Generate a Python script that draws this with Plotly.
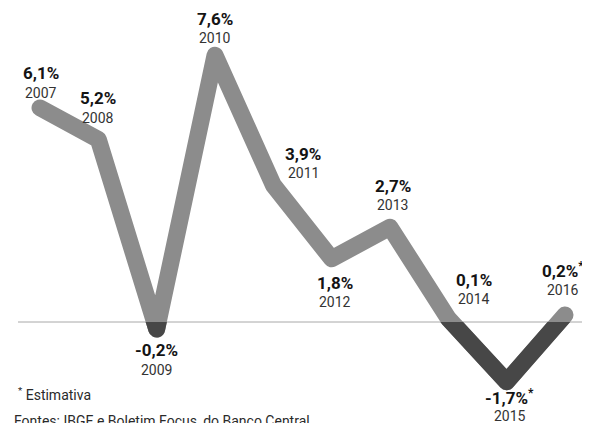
import plotly.graph_objects as go

years = [2007, 2008, 2009, 2010, 2011, 2012, 2013, 2014, 2015, 2016]
gdp = [6.1, 5.2, -0.2, 7.6, 3.9, 1.8, 2.7, 0.1, -1.7, 0.2]
value_labels = ["6,1%", "5,2%", "-0,2%", "7,6%", "3,9%", "1,8%", "2,7%", "0,1%",
                "-1,7%<sup>*</sup>", "0,2%<sup>*</sup>"]
# label placement: (xshift px, yshift of value label px, yshift of year label px)
label_pos = [(1, 35, 15), (0, 41, 21), (0, -21, -41), (0, 36, 17), (30, 31, 12),
             (3, -24, -43), (3, 41, 22), (26, 39, 20), (3, -15, -34), (-2, 45, 25)]
footnote = "<sup>*</sup> Estimativa"
source = "Fontes: IBGE e Boletim Focus, do Banco Central"

W, H = 582, 415   # page has an 8px body margin
ymin, ymax = -2.877, 8.946
zero_frac = (0 - ymin) / (ymax - ymin)

FONT = "Roboto, DejaVu Sans Condensed, sans-serif"

fig = go.Figure()
fig.add_trace(go.Scatter(x=years, y=gdp, mode="lines",
                         line=dict(color="#8c8c8c", width=17),
                         hoverinfo="skip", xaxis="x", yaxis="y"))
fig.add_trace(go.Scatter(x=years, y=gdp, mode="lines",
                         line=dict(color="#474747", width=17),
                         hoverinfo="skip", xaxis="x", yaxis="y2"))

ann = []
for yr, v, lab, (dx, dyv, dyy) in zip(years, gdp, value_labels, label_pos):
    ann.append(dict(x=yr, y=v, xref="x", yref="y", text="<b>" + lab + "</b>",
                    showarrow=False, xshift=dx, yshift=dyv,
                    font=dict(family=FONT, size=17, color="#141414")))
    ann.append(dict(x=yr, y=v, xref="x", yref="y", text=str(yr),
                    showarrow=False, xshift=dx, yshift=dyy,
                    font=dict(family=FONT, size=14, color="#333333")))
ann.append(dict(x=8 / W, y=1 - (394 - 8) / H, xref="paper", yref="paper", text=footnote,
                showarrow=False, xanchor="left", yanchor="middle",
                font=dict(family=FONT, size=14, color="#2a2a2a")))
ann.append(dict(x=4 / W, y=1 - (421 - 8) / H, xref="paper", yref="paper", text=source,
                showarrow=False, xanchor="left", yanchor="middle",
                font=dict(family=FONT, size=14, color="#2a2a2a")))

fig.update_layout(
    width=W, height=H,
    margin=dict(l=0, r=0, t=0, b=0),
    paper_bgcolor="white", plot_bgcolor="rgba(0,0,0,0)",
    showlegend=False,
    xaxis=dict(range=[2006.451, 2016.429], visible=False),
    yaxis=dict(range=[ymin, ymax], domain=[0, 1], visible=False),
    yaxis2=dict(range=[ymin, 0], domain=[0, zero_frac], anchor="x", visible=False),
    annotations=ann,
    shapes=[dict(type="line", xref="paper", yref="y", x0=10 / W, x1=1, y0=0, y1=0,
                 line=dict(color="#a8a8a8", width=1), layer="below")],
)

round_js = """
document.querySelectorAll('path.js-line').forEach(function(p){
  p.style.strokeLinejoin='round'; p.style.strokeLinecap='round';
});
"""
fig.write_html("out.html", post_script=round_js)
